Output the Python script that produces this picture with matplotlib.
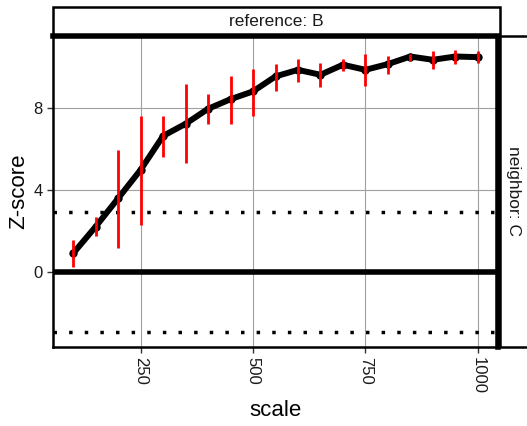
import matplotlib.pyplot as plt
from matplotlib.patches import Rectangle

plt.rcParams['font.family'] = ['Liberation Sans', 'DejaVu Sans']

# data
scale = [100, 150, 200, 250, 300, 350, 400, 450, 500, 550,
         600, 650, 700, 750, 800, 850, 900, 950, 1000]
zscore = [0.91, 2.21, 3.59, 4.98, 6.63, 7.22, 7.95, 8.42, 8.80, 9.53,
          9.85, 9.61, 10.10, 9.85, 10.13, 10.50, 10.34, 10.50, 10.47]
z_lo = [0.23, 1.77, 1.16, 2.29, 5.60, 5.30, 7.20, 7.22, 7.62, 8.84,
        9.24, 9.00, 9.80, 9.07, 9.64, 10.26, 9.89, 10.13, 10.18]
z_hi = [1.56, 2.70, 5.95, 7.62, 7.58, 9.17, 8.67, 9.53, 9.90, 10.13,
        10.40, 10.18, 10.38, 10.63, 10.54, 10.63, 10.78, 10.83, 10.75]
threshold = 2.93
x_ticks = [250, 500, 750, 1000]
y_ticks = [0, 4, 8]

W, H = 527, 426
fig = plt.figure(figsize=(W / 100, H / 100), dpi=100)
l, r, t, b = 53, 498, 36, 347
ax = fig.add_axes([l / W, (H - b) / H, (r - l) / W, (b - t) / H])

ax.set_xlim(55, 1045)
ax.set_ylim(-3.66, 11.5)

ax.grid(True, color='#a0a0a0', linewidth=0.8)
ax.set_axisbelow(True)

ax.axhline(0, color='black', linewidth=4, zorder=2)
ax.axhline(threshold, color='black', linewidth=2.5, linestyle=(0, (1, 3.5)), zorder=2)
ax.axhline(-threshold, color='black', linewidth=2.5, linestyle=(0, (1, 3.5)), zorder=2)

ax.plot(scale, zscore, color='black', linewidth=4.3, marker='o', markersize=5,
        solid_capstyle='round', solid_joinstyle='round', zorder=3)
ax.vlines(scale, z_lo, z_hi, color='red', linewidth=2, zorder=4)

ax.set_xticks(x_ticks)
ax.set_yticks(y_ticks)
ax.tick_params(axis='both', labelsize=12, length=4, width=1, color='#333333',
               labelcolor='#1a1a1a')
for lab in ax.get_xticklabels():
    lab.set_rotation(270)
    lab.set_va('top')
    lab.set_ha('center')

ax.set_xlabel('scale', fontsize=16, labelpad=4)
ax.set_ylabel('Z-score', fontsize=16, labelpad=3)

for side in ['left', 'bottom']:
    ax.spines[side].set_linewidth(1.8)
for side in ['top', 'right']:
    ax.spines[side].set_linewidth(4)

# facet strips
fig.patches.append(Rectangle((53 / W, (H - 34) / H), (500 - 53) / W, 27 / H,
                             transform=fig.transFigure, facecolor='white',
                             edgecolor='black', linewidth=1.8))
fig.text((53 + 500) / 2 / W, (H - 21) / H, 'reference: B', ha='center', va='center',
         fontsize=12.5, color='#1a1a1a')
fig.patches.append(Rectangle((500 / W, (H - 347) / H), 40 / W, (347 - 36) / H,
                             transform=fig.transFigure, facecolor='white',
                             edgecolor='black', linewidth=1.8))
fig.text(514 / W, (H - 191) / H, 'neighbor: C', ha='center', va='center',
         rotation=270, fontsize=12.5, color='#1a1a1a')

fig.savefig('out.png', dpi=100)
